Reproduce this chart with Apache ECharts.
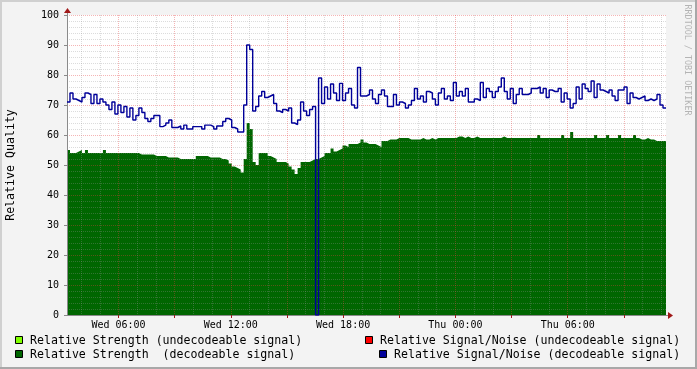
<!DOCTYPE html>
<html><head><meta charset="utf-8">
<script src="https://cdn.jsdelivr.net/npm/echarts@6/dist/echarts.min.js"></script>
<style>html,body{margin:0;padding:0;background:#f3f3f3}#c{width:697px;height:369px}</style>
</head><body><div id="c"></div>
<script>
// ---- data ----
const startHour = 3.25;      // Wed 03:15 (hours since Wed 00:00)
const endHour = 35.25;       // Thu 11:15
const sampleHours = 0.16;    // one sample every 9.6 min
const xLabelHours = [6, 12, 18, 24, 30];
const xLabelText = ['Wed 06:00', 'Wed 12:00', 'Wed 18:00', 'Thu 00:00', 'Thu 06:00'];
const yLabelValues = [0, 10, 20, 30, 40, 50, 60, 70, 80, 90, 100];

const strengthDecodeable = [
 55,54,54,54.5,55,54,55,54,54,54,
 54,54,55,54,54,54,54,54,54,54,
 54,54,54,54,53.5,53.5,53.5,53.5,53.5,53,
 53,53,53,52.5,52.5,52.5,52.5,52,52,52,
 52,52,52,53,53,53,53,52.5,52.5,52.5,
 52.5,52,52,51.5,50.5,49.5,49,48.5,47.5,52,
 64,62,51,50,54,54,54,53,52.5,52,
 51,51,51,50.5,49.5,48.5,47,49,51,51,
 51,51.5,52,52,52.5,53,54,54,55.5,54.5,
 55,55.5,56.5,56,57,57,57,57.5,58.5,57.5,
 57,57,57,56.5,56,58,58,58.5,58.5,58.5,
 59,59,59,59,58.5,58.5,58.5,58.5,59,58.5,
 58.5,59,58.5,59,59,59,59,59,59,59,
 59.5,59.5,59,59.5,59,59,59.5,59,59,59,
 59,59,59,59,59,59.5,59,59,59,59,
 59,59,59,59,59,59,59,60,59,59,
 59,59,59,59,59,60,59,59,61,59,
 59,59,59,59,59,59,60,59,59,59,
 60,59,59,59,60,59,59,59,59,60,
 59,58.5,58.5,59,58.5,58.5,58,58,58,58
];
const snrDecodeable = [
 71,74,72,71.5,71,72.5,74,73.5,70.5,73.5,
 70.5,72,71,70,68.5,71,67,70,67.5,69.5,
 66,69,65,66.5,69,67.5,65.5,64.5,65.5,66.5,
 66.5,62.8,63.3,64,65,62.5,62.5,63,62,63.3,
 62,62,62.8,62.8,62.8,62,63.3,63.3,62.8,62,
 63,63,64.5,65.5,65,62.5,62,61,61,70,
 90,88.5,68,69.5,73,74.5,72.5,73,73.5,70.5,
 68,67.5,68.5,68,69,64,63.5,65,71,68,
 66.5,68.5,69.5,0,79,70.5,76,72,77,74,
 71.5,77.2,71.5,74,75.5,70,69,82.5,73,73,
 73.5,75,72,70.5,73.5,75,73,69.5,69.5,73.5,
 70,71,70.5,69,70,71.5,75.5,72,73,71,
 74.5,74,72,70,74,75.5,72,73,71.5,77.5,
 73,74.5,73,75.5,71,71,72,71.5,77.5,72.5,
 75.5,74.5,72.5,74.5,76,79,74.5,72,75.5,70.5,
 73.5,75.5,73.5,73.5,74,75.5,75.5,76,74,75.5,
 72.5,75,74.5,74.5,75.5,71,74,72,69,70.5,
 76,72,77,75.5,74.5,78,72.5,77,75,74.5,
 74,75,73,71.5,75,75,76,70.5,74,72.5,
 72,72.5,73,71.5,72,71.5,72,73.5,70,69
];
const strengthUndecodeable = []; // nothing visible in this period
const snrUndecodeable = [];

// ---- helpers ----
function toSteps(vals) {
  const pts = vals.map((v, i) => [startHour + i * sampleHours, v]);
  if (vals.length) pts.push([startHour + vals.length * sampleHours, vals[vals.length - 1]]);
  return pts;
}
const minorHours = [], majorHours = [];
for (let h = Math.ceil(startHour); h <= endHour; h++) (h % 3 === 0 ? majorHours : minorHours).push(h);
const minorY = [];
for (let v = 2; v < 100; v += 2) if (v % 10 !== 0) minorY.push(v);

const GL = 67, GT = 15, GW = 599, GH = 300;
const FONT = '"DejaVu Sans Mono", monospace';
const minorCol = 'rgba(150,150,150,0.33)';
const majorCol = 'rgba(230,60,60,0.38)';
const axisCol = '#8a8a8a';
const arrowCol = '#a01818';
const cGreen = '#006600', cBlue = '#000099', cLight = '#80ff00', cRed = '#ff0000';

const chart = echarts.init(document.getElementById('c'), null, {renderer: 'canvas'});
chart.setOption({
  animation: false,
  backgroundColor: '#f3f3f3',
  grid: {left: GL, top: GT, width: GW, height: GH, show: true, backgroundColor: '#ffffff', borderWidth: 0},
  xAxis: [
    {type: 'value', min: startHour, max: endHour, position: 'bottom', z: 3,
     axisLine: {show: false}, axisLabel: {show: false},
     axisTick: {show: false, customValues: minorHours},
     splitLine: {show: true, lineStyle: {color: minorCol, width: 1, type: [1, 1]}}},
    {type: 'value', min: startHour, max: endHour, position: 'bottom', z: 3,
     axisLine: {show: true, lineStyle: {color: axisCol, width: 1}},
     axisTick: {show: true, customValues: majorHours, length: 3, lineStyle: {color: arrowCol}},
     axisLabel: {show: true, customValues: xLabelHours, margin: 5, fontSize: 10, fontFamily: FONT, color: '#000',
       formatter: v => { const k = xLabelHours.indexOf(Math.round(v)); return k < 0 ? '' : xLabelText[k]; }},
     splitLine: {show: true, lineStyle: {color: majorCol, width: 1, type: [1, 1]}}}
  ],
  yAxis: [
    {type: 'value', min: 0, max: 100, position: 'left', z: 3,
     axisLine: {show: false}, axisLabel: {show: false},
     axisTick: {show: false, customValues: minorY},
     splitLine: {show: true, lineStyle: {color: minorCol, width: 1, type: [1, 1]}}},
    {type: 'value', min: 0, max: 100, position: 'left', z: 3,
     axisLine: {show: true, lineStyle: {color: axisCol, width: 1}},
     axisTick: {show: true, customValues: yLabelValues, length: 3, lineStyle: {color: axisCol}},
     axisLabel: {show: true, customValues: yLabelValues, margin: 8, fontSize: 10, fontFamily: FONT, color: '#000',
       formatter: v => String(Math.round(v))},
     splitLine: {show: true, lineStyle: {color: majorCol, width: 1, type: [1, 1]}}}
  ],
  series: [
    {name: 'Relative Strength  (decodeable signal)', type: 'line', xAxisIndex: 1, yAxisIndex: 1, z: 2,
     step: 'end', showSymbol: false, symbol: 'none', data: toSteps(strengthDecodeable),
     lineStyle: {width: 0, color: cGreen}, itemStyle: {color: cGreen},
     areaStyle: {color: cGreen, opacity: 1}},
    {name: 'Relative Strength (undecodeable signal)', type: 'line', xAxisIndex: 1, yAxisIndex: 1, z: 2,
     step: 'end', symbol: 'none', data: toSteps(strengthUndecodeable),
     lineStyle: {width: 0, color: cLight}, areaStyle: {color: cLight, opacity: 1}},
    {name: 'Relative Signal/Noise (undecodeable signal)', type: 'line', xAxisIndex: 1, yAxisIndex: 1, z: 5,
     step: 'end', symbol: 'none', data: toSteps(snrUndecodeable),
     lineStyle: {width: 1.5, color: cRed}},
    {name: 'Relative Signal/Noise (decodeable signal)', type: 'line', xAxisIndex: 1, yAxisIndex: 1, z: 5,
     step: 'end', showSymbol: false, symbol: 'none', data: toSteps(snrDecodeable),
     lineStyle: {width: 1.4, color: cBlue}, itemStyle: {color: cBlue}}
  ],
  graphic: [
    // frame
    {type: 'rect', z: 10, shape: {x: 0, y: 0, width: 697, height: 2}, style: {fill: '#d0d0d0'}},
    {type: 'rect', z: 10, shape: {x: 0, y: 0, width: 2, height: 369}, style: {fill: '#d0d0d0'}},
    {type: 'rect', z: 10, shape: {x: 695, y: 0, width: 2, height: 369}, style: {fill: '#a8a8a8'}},
    {type: 'rect', z: 10, shape: {x: 0, y: 367, width: 697, height: 2}, style: {fill: '#a8a8a8'}},
    // axis extensions and arrows
    {type: 'line', z: 10, shape: {x1: GL + GW, y1: GT + GH + 0.5, x2: GL + GW + 3, y2: GT + GH + 0.5}, style: {stroke: axisCol, lineWidth: 1}},
    {type: 'polygon', z: 10, shape: {points: [[GL + GW + 2, GT + GH - 3], [GL + GW + 7, GT + GH + 0.5], [GL + GW + 2, GT + GH + 4]]}, style: {fill: arrowCol}},
    {type: 'line', z: 10, shape: {x1: GL + 0.5, y1: GT, x2: GL + 0.5, y2: GT - 3}, style: {stroke: axisCol, lineWidth: 1}},
    {type: 'polygon', z: 10, shape: {points: [[GL - 3, GT - 2], [GL + 0.5, GT - 7], [GL + 4, GT - 2]]}, style: {fill: arrowCol}},
    // titles
    {type: 'text', z: 10, x: 11, y: 165, rotation: Math.PI / 2,
     style: {text: 'Relative Quality', font: '11.6px ' + FONT, fill: '#000', align: 'center', verticalAlign: 'middle'}},
    {type: 'text', z: 10, x: 687, y: 60, rotation: -Math.PI / 2,
     style: {text: 'RRDTOOL / TOBI OETIKER', font: '8.4px ' + FONT, fill: '#b4b4b4', align: 'center', verticalAlign: 'middle'}},
    // legend
    {type: 'rect', z: 10, shape: {x: 15.5, y: 336.5, width: 7, height: 7}, style: {fill: cLight, stroke: '#000', lineWidth: 1}},
    {type: 'text', z: 10, x: 30, y: 340.5, style: {text: 'Relative Strength (undecodeable signal)', font: '11.6px ' + FONT, fill: '#000', align: 'left', verticalAlign: 'middle'}},
    {type: 'rect', z: 10, shape: {x: 15.5, y: 350.5, width: 7, height: 7}, style: {fill: cGreen, stroke: '#000', lineWidth: 1}},
    {type: 'text', z: 10, x: 30, y: 354.5, style: {text: 'Relative Strength  (decodeable signal)', font: '11.6px ' + FONT, fill: '#000', align: 'left', verticalAlign: 'middle'}},
    {type: 'rect', z: 10, shape: {x: 365.5, y: 336.5, width: 7, height: 7}, style: {fill: cRed, stroke: '#000', lineWidth: 1}},
    {type: 'text', z: 10, x: 380, y: 340.5, style: {text: 'Relative Signal/Noise (undecodeable signal)', font: '11.6px ' + FONT, fill: '#000', align: 'left', verticalAlign: 'middle'}},
    {type: 'rect', z: 10, shape: {x: 379.5, y: 350.5, width: 7, height: 7}, style: {fill: cBlue, stroke: '#000', lineWidth: 1}},
    {type: 'text', z: 10, x: 394, y: 354.5, style: {text: 'Relative Signal/Noise (decodeable signal)', font: '11.6px ' + FONT, fill: '#000', align: 'left', verticalAlign: 'middle'}}
  ]
});
</script></body></html>
